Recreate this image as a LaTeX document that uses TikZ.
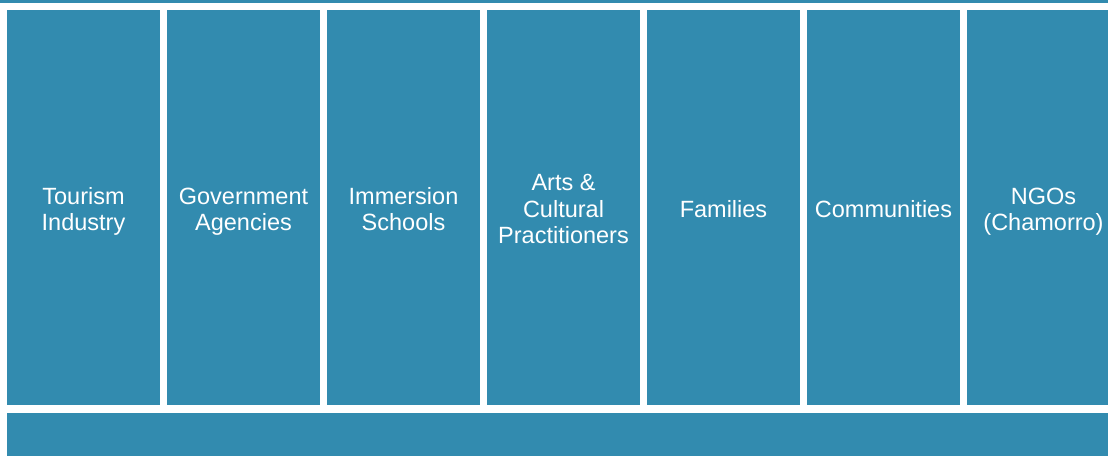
\documentclass[tikz,border=0pt]{standalone}
\usepackage{fontspec}
\setmainfont{Liberation Sans}
\definecolor{tealblue}{RGB}{50,139,175}
\newcommand{\Sl}{\strut}
\tikzset{
  col/.style={fill=tealblue, draw=none, rectangle, inner sep=0pt, minimum width=153pt, minimum height=395pt},
  lbl/.style={text=white, align=center, inner sep=0pt, font=\fontsize{23.5}{26.5}\selectfont},
  bar/.style={fill=tealblue, draw=none, rectangle, inner sep=0pt}
}
\begin{document}
\begin{tikzpicture}[x=1pt,y=-1pt]
\useasboundingbox (0,0) rectangle (1108,456);
\fill[white] (0,0) rectangle (1108,456);
\begin{scope}
\clip (0,0) rectangle (1108,456);
\node[bar, minimum width=1108pt, minimum height=3pt, anchor=north west] (topbar) at (0,0) {};
\node[col] (c1) at (83.5,207.5) {};
\node[col] (c2) at (243.5,207.5) {};
\node[col] (c3) at (403.5,207.5) {};
\node[col] (c4) at (563.5,207.5) {};
\node[col] (c5) at (723.5,207.5) {};
\node[col] (c6) at (883.5,207.5) {};
\node[col] (c7) at (1043.5,207.5) {};
\node[lbl] (t1) at ([yshift=-4.5pt]c1.center) {\Sl Tourism\\Industry\Sl};
\node[lbl] (t2) at ([yshift=-4.5pt]c2.center) {\Sl Government\\Agencies\Sl};
\node[lbl] (t3) at ([yshift=-4.5pt]c3.center) {\Sl Immersion\\Schools\Sl};
\node[lbl] (t4) at ([yshift=-4.5pt]c4.center) {\Sl Arts \&\\Cultural\\Practitioners\Sl};
\node[lbl] (t5) at ([yshift=-4.5pt]c5.center) {\Sl Families};
\node[lbl] (t6) at ([yshift=-4.5pt]c6.center) {\Sl Communities};
\node[lbl] (t7) at ([yshift=-4.5pt]c7.center) {\Sl NGOs\\(Chamorro)\Sl};
\node[bar, minimum width=1101pt, minimum height=43pt, anchor=north west] (bottombar) at (7,413) {};
\end{scope}
\end{tikzpicture}
\end{document}
